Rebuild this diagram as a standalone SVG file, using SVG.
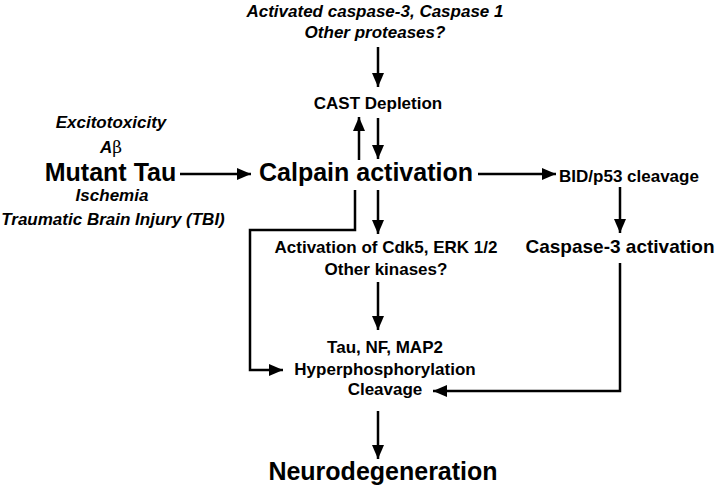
<svg xmlns="http://www.w3.org/2000/svg" width="720" height="490" viewBox="0 0 720 490">
<style>
text{font-family:"Liberation Sans",Arial,sans-serif;font-weight:bold;fill:#000;text-anchor:middle}
.it{font-style:italic;font-size:17px}
.m{font-size:17px}
.big{font-size:25px}
.c3{font-size:19px}
.ln{fill:none;stroke:#000;stroke-width:2.5}
.ar{marker-end:url(#ah)}
</style>
<defs>
<marker id="ah" markerUnits="userSpaceOnUse" markerWidth="15" markerHeight="13" refX="14" refY="6.5" orient="auto">
<path d="M0,0.5 L14,6.5 L0,12.5 z" fill="#000"/>
</marker>
</defs>
<rect width="720" height="490" fill="#fff"/>
<g id="proteases"><text class="it" x="375" y="17">Activated caspase-3, Caspase 1</text><text class="it" x="375" y="38">Other proteases?</text></g>
<g id="cast"><text class="m" x="378" y="109">CAST Depletion</text></g>
<g id="inputs"><text class="it" x="111" y="128">Excitotoxicity</text><text class="it" x="111" y="153">A<tspan style="font-style:normal;font-weight:normal;font-family:'DejaVu Serif','Liberation Serif',serif">β</tspan></text><text class="it" x="112" y="201">Ischemia</text><text class="it" x="113" y="225">Traumatic Brain Injury (TBI)</text></g>
<g id="mutant-tau"><text class="big" x="110.5" y="181">Mutant Tau</text></g>
<g id="calpain"><text class="big" x="366" y="181">Calpain activation</text></g>
<g id="bid"><text class="m" x="629" y="182">BID/p53 cleavage</text></g>
<g id="caspase3"><text class="c3" x="620" y="253">Caspase-3 activation</text></g>
<g id="kinases"><text class="m" x="386" y="253">Activation of Cdk5, ERK 1/2</text><text class="m" x="386" y="275">Other kinases?</text></g>
<g id="tau-targets"><text class="m" x="385" y="353">Tau, NF, MAP2</text><text class="m" x="385" y="375">Hyperphosphorylation</text><text class="m" x="385" y="395">Cleavage</text></g>
<g id="neuro"><text class="big" x="383" y="480">Neurodegeneration</text></g>
<g id="connectors">
<line class="ln ar" x1="378" y1="47" x2="378" y2="87"/>
<line class="ln ar" x1="359" y1="160" x2="359" y2="117"/>
<line class="ln ar" x1="378" y1="118" x2="378" y2="159"/>
<line class="ln ar" x1="180" y1="174" x2="251" y2="174"/>
<line class="ln ar" x1="478" y1="174" x2="556" y2="174"/>
<line class="ln ar" x1="620" y1="187" x2="620" y2="233"/>
<line class="ln ar" x1="378" y1="190" x2="378" y2="234"/>
<polyline class="ln ar" points="355,190 355,230 250,230 250,370 283,370"/>
<line class="ln ar" x1="378" y1="282" x2="378" y2="330"/>
<polyline class="ln ar" points="620,263 620,391 433,391"/>
<line class="ln ar" x1="378" y1="411" x2="378" y2="459"/>
</g>
</svg>
